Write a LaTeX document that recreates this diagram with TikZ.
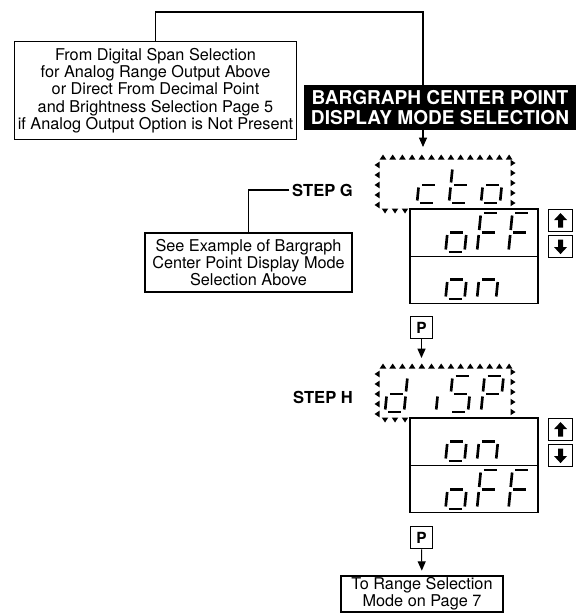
\documentclass[tikz,border=0pt]{standalone}
\usepackage{fontspec}
\setmainfont{TeX Gyre Heros}
\usetikzlibrary{positioning,calc,arrows.meta}
\tikzset{x=0.75pt, y=-0.75pt}
\tikzset{txt/.style={draw,fill=white,line width=0.8pt,align=center,inner sep=0pt,outer sep=0pt,font=\fontsize{12.2}{13}\selectfont}}
\tikzset{head/.style={fill=black,text=white,align=center,inner sep=0pt,font=\bfseries\fontsize{14.3}{15}\selectfont}}
\tikzset{win/.style={draw,fill=white,line width=0.8pt,outer sep=0pt,minimum width=96pt,minimum height=35.6pt}}
\tikzstyle{lbl}=[inner sep=2pt, font=\bfseries\fontsize{12.4}{13}\selectfont]
\tikzstyle{key}=[draw, line width=0.8pt, inner sep=0pt, minimum size=17pt, font=\bfseries\fontsize{11.5}{12}\selectfont]
\tikzstyle{btn}=[draw, line width=0.8pt, inner sep=0pt, minimum width=18pt, minimum height=16.5pt]
\tikzstyle{seg}=[line width=2pt]
\tikzstyle{arrow}=[line width=0.8pt, -{Triangle[width=6pt,length=7pt]}]
% seven segment digit: x, bottom y, width, height, segments
\newcommand{\lcd}[5]{%
  \begin{scope}[shift={(#1,#2)}, xslant=0.1, yscale=-1]
    \def\dw{#3}\def\dh{#4}
    \foreach \s in {#5}{\csname lcd\s\endcsname}
  \end{scope}}
\newcommand{\lcda}{\draw[seg] (3,\dh) -- (\dw-3,\dh);}
\newcommand{\lcdb}{\draw[seg] (\dw,\dh/2+2.5) -- (\dw,\dh-2.5);}
\newcommand{\lcdc}{\draw[seg] (\dw,2.5) -- (\dw,\dh/2-2.5);}
\newcommand{\lcdd}{\draw[seg] (3,0) -- (\dw-3,0);}
\newcommand{\lcde}{\draw[seg] (0,2.5) -- (0,\dh/2-2.5);}
\newcommand{\lcdf}{\draw[seg] (0,\dh/2+2.5) -- (0,\dh-2.5);}
\newcommand{\lcdg}{\draw[seg] (3,\dh/2) -- (\dw-3,\dh/2);}
% small flashing triangles round a display
\newcommand{\tri}[3]{\fill[shift={(#1,#2)}, rotate=#3] (-3.3,2.5) -- (3.3,2.5) -- (0,-2.5) -- cycle;}
\newcommand{\ring}[1]{%
  \foreach \i in {0,...,13}{\tri{383+9.7*\i}{#1}{0}}
  \foreach \i in {0,...,4}{\tri{377}{#1+8+10*\i}{90}\tri{513}{#1+6+10*\i}{270}}
  \foreach \i in {0,1,2}{\tri{385+10*\i}{#1+54}{180}}}
\newcommand{\updown}[2]{\fill[shift={(#1.center)}, rotate=#2] (0,-7.5) -- (6.5,-0.5) -- (2.5,-0.5) -- (2.5,7) -- (-2.5,7) -- (-2.5,-0.5) -- (-6.5,-0.5) -- cycle;}
\begin{document}
\begin{tikzpicture}
        \useasboundingbox (0,0) rectangle (576,614);
        \node (src) [txt, minimum width=211.5pt, minimum height=73.5pt] at (155.5,90.5) {From Digital Span Selection\\for Analog Range Output Above\\or Direct From Decimal Point\\and Brightness Selection Page 5\\if Analog Output Option is Not Present};
        \node (ttl) [head, minimum width=204pt, minimum height=33.75pt] at (440,107.5) {BARGRAPH CENTER POINT\\DISPLAY MODE SELECTION};
        \coordinate (c1) at (423,12);
        \coordinate (c2) at (423,147);
        \draw[line width=0.8pt] (src.north) |- (c1) -- (c1 |- ttl.north);
        \draw[arrow] (c1 |- ttl.south) -- (c2);
        % step G
        \ring{157}
        \lcd{417}{203}{19}{36}{d,e,g}
        \lcd{449}{203}{19}{36}{d,e,f,g}
        \lcd{481}{203}{19}{36}{c,d,e,g}
        \node (g1) [win, anchor=north west] at (410,209) {};
        \node (g2) [win, below=0pt of g1] {};
        \lcd{445.5}{252}{19}{39}{c,d,e,g}
        \lcd{477}{252}{19}{39}{a,e,f,g}
        \lcd{508.5}{252}{19}{39}{a,e,f,g}
        \lcd{445.5}{299}{19}{39}{c,d,e,g}
        \lcd{477}{299}{19}{39}{c,e,g}
        \node (gup) [btn, below right=0pt and 7.5pt of g1.north east] {};
        \node (gdn) [btn, below=2.25pt of gup] {};
        \updown{gup}{0}
        \updown{gdn}{180}
        \node (stepg) [lbl] at (322.5,190) {STEP G};
        \node (see) [txt, minimum width=155.25pt, minimum height=44.25pt] at (248.5,262.5) {See Example of Bargraph\\Center Point Display Mode\\Selection Above};
        \draw[line width=0.8pt] (stepg.west) -| (see.north);
        \node (p1) [key] at (421.5,327.5) {P};
        \coordinate (c3) at (421.5,358);
        \draw[arrow] (p1) -- (c3);
        % step H
        \ring{366}
        \lcd{385}{412}{19}{36}{b,c,d,e,g}
        \lcd{417}{412}{19}{36}{c}
        \lcd{449}{412}{19}{36}{a,f,g,c,d}
        \lcd{481}{412}{19}{36}{a,b,f,g,e}
        \node (h1) [win, anchor=north west] at (410,418) {};
        \node (h2) [win, below=0pt of h1] {};
        \lcd{445.5}{461}{19}{39}{c,d,e,g}
        \lcd{477}{461}{19}{39}{c,e,g}
        \lcd{445.5}{509}{19}{39}{c,d,e,g}
        \lcd{477}{509}{19}{39}{a,e,f,g}
        \lcd{508.5}{509}{19}{39}{a,e,f,g}
        \node (hup) [btn, below right=0pt and 7.5pt of h1.north east] {};
        \node (hdn) [btn, below=2.25pt of hup] {};
        \updown{hup}{0}
        \updown{hdn}{180}
        \node (steph) [lbl] at (323,397) {STEP H};
        \node (p2) [key] at (421.5,537.5) {P};
        \node (dest) [txt, minimum width=121.5pt, minimum height=27pt] at (422,594) {To Range Selection\\Mode on Page 7};
        \draw[arrow, shorten >=4pt] (p2) -- (dest);
\end{tikzpicture}
\end{document}
